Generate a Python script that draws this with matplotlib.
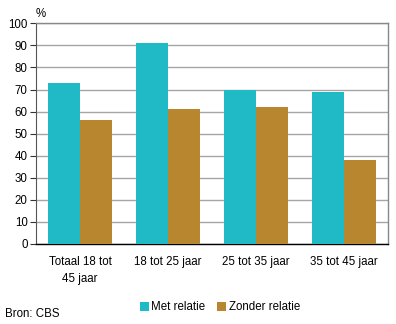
import matplotlib
matplotlib.use("Agg")
import matplotlib.pyplot as plt
import numpy as np

plt.rcParams['font.family'] = ['Liberation Sans', 'DejaVu Sans']

categories = ["Totaal 18 tot\n45 jaar", "18 tot 25 jaar", "25 tot 35 jaar", "35 tot 45 jaar"]
met_relatie = [73, 91, 70, 69]
zonder_relatie = [56, 61, 62, 38]
series_names = ["Met relatie", "Zonder relatie"]
yticks = list(range(0, 101, 10))

teal = '#1fbac6'
brown = '#b8862f'
fs = 8.3

fig = plt.figure(figsize=(3.96, 3.24), dpi=100)
ax = fig.add_axes([0.0909, 0.247, 0.889, 0.681])

x = np.arange(len(categories))
w = 0.36
ax.bar(x - w / 2, met_relatie, w, color=teal, label=series_names[0], zorder=3)
ax.bar(x + w / 2, zonder_relatie, w, color=brown, label=series_names[1], zorder=3)

ax.set_xlim(-0.5, len(categories) - 0.5)
ax.set_ylim(0, 100)
ax.set_yticks(yticks)
ax.set_xticks(x)
ax.set_xticklabels(categories, fontsize=fs, linespacing=1.55)
ax.tick_params(axis='y', labelsize=fs, length=4, width=0.8, color='#333333', pad=2)
ax.tick_params(axis='x', length=0, pad=9)

ax.grid(axis='y', color='#a6a6a6', linewidth=1, zorder=0)
for side in ['top', 'right']:
    ax.spines[side].set_color('#888888')
    ax.spines[side].set_linewidth(1)
ax.spines['left'].set_color('#555555')
ax.spines['bottom'].set_color('black')
ax.spines['bottom'].set_linewidth(1)

fig.text(0.091, 0.958, "%", fontsize=fs, ha='left', va='center')
fig.text(0.013, 0.032, "Bron: CBS", fontsize=fs, ha='left', va='center')

fig.legend(loc='center', bbox_to_anchor=(0.555, 0.052), ncol=2, frameon=False,
           fontsize=fs, handlelength=0.8, handleheight=0.8, handletextpad=0.2,
           columnspacing=1.0)

fig.savefig("out.png", dpi=100)
